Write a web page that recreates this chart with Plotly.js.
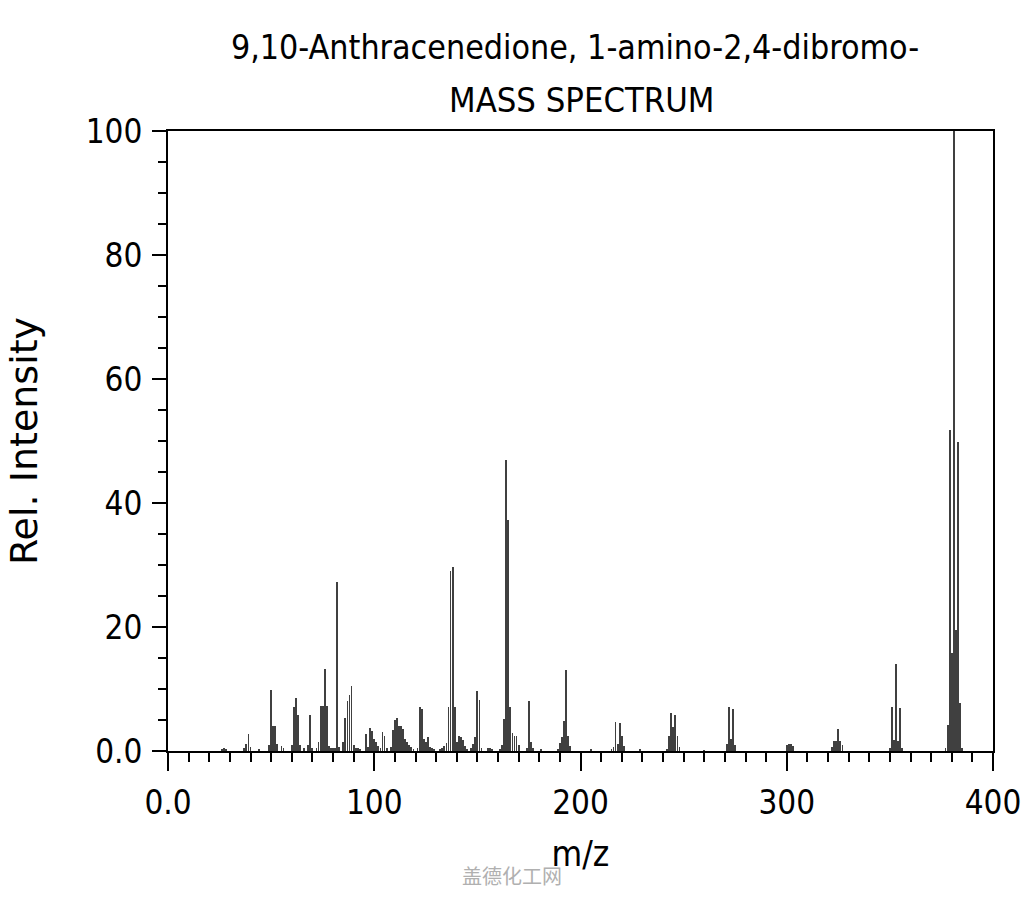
<!DOCTYPE html>
<html>
<head>
<meta charset="utf-8">
<script src="https://cdn.plot.ly/plotly-3.0.1.min.js"></script>
<style>
  html, body { margin: 0; padding: 0; background: #fff; }
  #chart { width: 1024px; height: 900px; }
</style>
</head>
<body>
<div id="chart"></div>
<script>
// m/z values and relative intensities
const mz = [26,27,28,37,38,39,40,44,49,50,51,52,53,55,56,60,61,62,63,64,66,68,69,70,72,73,74,75,76,77,78,79,80,81,82,83,85,86,87,88,89,90,91,92,93,96,97,98,99,100,101,102,103,104,105,106,108,109,110,111,112,113,114,115,116,117,118,119,121,122,123,124,125,126,127,128,129,132,133,134,135,136,137,138,139,140,141,142,143,144,145,147,148,149,150,151,152,155,156,157,161,162,163,164,165,166,167,168,169,170,174,175,176,177,181,189,190,191,192,193,194,195,205,215,216,217,218,219,220,221,229,242,243,244,245,246,247,248,260,271,272,273,274,275,300,301,302,303,322,323,324,325,326,327,350,351,352,353,354,355,356,377,378,379,380,381,382,383,384,385];
const intensity = [0.3,0.5,0.3,0.5,1.2,2.7,0.6,0.4,1.0,9.8,4.0,4.0,1.2,0.8,0.5,1.0,7.1,8.5,5.8,1.0,0.5,1.0,5.8,0.5,0.5,1.5,7.3,7.3,13.3,7.3,0.8,0.5,0.5,0.5,27.3,0.7,1.5,5.3,8.0,9.0,10.5,1.0,0.5,0.5,0.3,2.7,0.7,3.7,3.3,2.0,1.5,0.8,0.5,3.0,2.4,0.5,0.7,3.4,5.0,5.3,4.0,4.1,3.5,2.0,1.5,1.0,0.6,0.3,0.5,7.1,6.8,2.0,1.5,2.2,0.6,0.5,0.3,0.3,0.5,0.8,1.3,7.1,29.0,29.6,7.1,1.5,2.4,2.3,1.8,0.8,0.4,0.5,1.2,2.2,9.6,8.2,0.5,0.5,0.5,0.4,0.3,1.0,5.2,46.9,37.3,7.1,2.9,2.5,2.5,1.0,0.5,8.0,1.5,0.5,0.3,0.4,1.3,2.3,4.9,13.0,2.4,0.8,0.3,0.3,0.6,4.7,1.2,4.5,2.4,0.8,0.3,0.4,2.4,6.1,3.9,5.8,2.4,0.6,0.2,1.2,7.1,2.0,6.8,1.0,1.0,1.2,1.2,0.8,0.6,1.6,1.6,3.5,1.6,1.0,0.5,7.1,1.8,14.0,1.6,7.0,0.5,0.5,4.2,51.8,15.8,100,19.5,49.9,7.7,0.5];

const xTickVals = [0, 100, 200, 300, 400];
const xTickText = ["0.0", "100", "200", "300", "400"];
const yTickVals = [0, 20, 40, 60, 80, 100];
const yTickText = ["0.0", "20", "40", "60", "80", "100"];

const titleLine1 = "9,10-Anthracenedione, 1-amino-2,4-dibromo-";
const titleLine2 = "MASS SPECTRUM";
const xTitle = "m/z";
const yTitle = "Rel. Intensity";
const watermark = "盖德化工网";

const FONT = "DejaVu Sans Condensed, DejaVu Sans, sans-serif";
const FONT_WIDE = "DejaVu Sans, sans-serif";

const trace = {
  type: "bar",
  x: mz,
  y: intensity,
  width: 0.9,
  marker: { color: "#404040", line: { width: 0 } },
  hoverinfo: "x+y"
};

const layout = {
  width: 1024,
  height: 900,
  margin: { l: 168, r: 31, t: 131, b: 149 },
  paper_bgcolor: "#ffffff",
  plot_bgcolor: "#ffffff",
  showlegend: false,
  bargap: 0,
  font: { family: FONT, color: "#000" },
  title: {
    text: titleLine1,
    font: { family: FONT, size: 33.7, color: "#000" },
    x: 575 / 1024, xanchor: "center",
    y: 1 - 47 / 900, yanchor: "middle"
  },
  annotations: [
    {
      text: titleLine2, xref: "paper", yref: "paper",
      x: (581 - 168) / 825, y: 1 + 31 / 620, xanchor: "center", yanchor: "middle",
      showarrow: false, font: { family: FONT, size: 34.3, color: "#000" }
    },
    {
      text: watermark, xref: "paper", yref: "paper",
      x: (512 - 168) / 825, y: -(875 - 751) / 620, xanchor: "center", yanchor: "middle",
      showarrow: false, font: { family: "Noto Sans CJK SC", size: 20, color: "#b0b0b0" }
    }
  ],
  xaxis: {
    range: [0, 400],
    tickmode: "array", tickvals: xTickVals, ticktext: xTickText,
    ticks: "outside", ticklen: 18, tickwidth: 2, tickcolor: "#000",
    minor: { dtick: 10, ticks: "outside", ticklen: 9, tickwidth: 2, tickcolor: "#000", showgrid: false },
    showline: true, linecolor: "#000", linewidth: 2, mirror: true,
    showgrid: false, zeroline: false,
    tickfont: { family: FONT, size: 33, color: "#000" },
    ticklabelstandoff: 3,
    ticklabeloverflow: "allow",
    title: { text: xTitle, font: { family: FONT, size: 35, color: "#000" }, standoff: 21 }
  },
  yaxis: {
    range: [0, 100],
    tickmode: "array", tickvals: yTickVals, ticktext: yTickText,
    ticks: "outside", ticklen: 14, tickwidth: 2, tickcolor: "#000",
    minor: { dtick: 5, ticks: "outside", ticklen: 8, tickwidth: 2, tickcolor: "#000", showgrid: false },
    showline: true, linecolor: "#000", linewidth: 2, mirror: true,
    showgrid: false, zeroline: false,
    tickfont: { family: FONT, size: 33, color: "#000" },
    ticklabelstandoff: 3,
    title: { text: yTitle, font: { family: FONT_WIDE, size: 38, color: "#000" }, standoff: 36 }
  }
};

Plotly.newPlot("chart", [trace], layout, { displayModeBar: false, staticPlot: true });
</script>
</body>
</html>
